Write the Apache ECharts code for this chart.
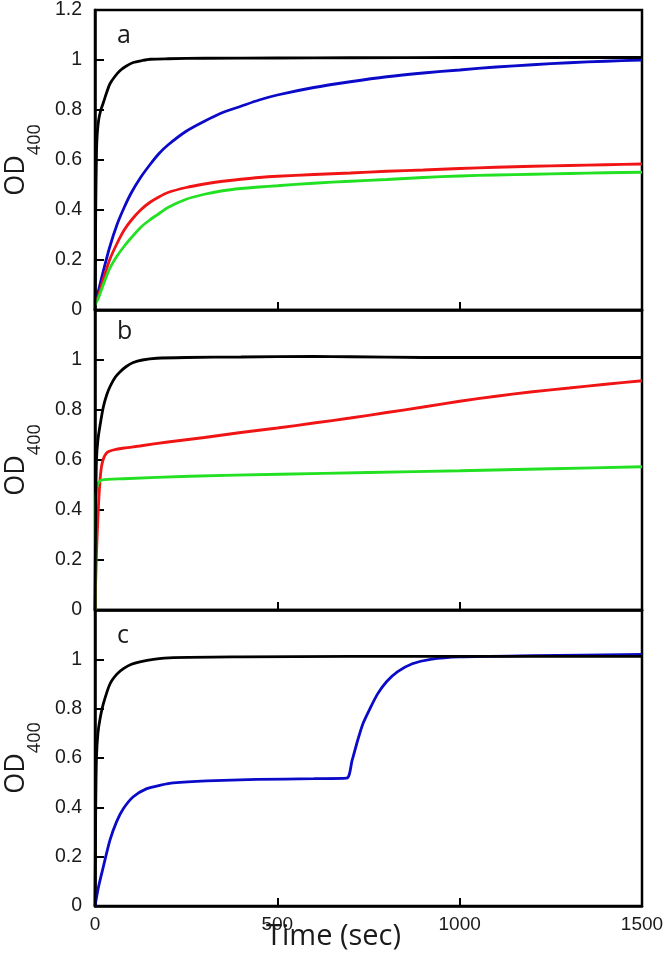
<!DOCTYPE html>
<html>
<head>
<meta charset="utf-8">
<script src="https://cdn.jsdelivr.net/npm/echarts@6/dist/echarts.min.js"></script>
<style>
html,body{margin:0;padding:0;background:#fff;}
#chart{width:666px;height:955px;}
</style>
</head>
<body>
<div id="chart"></div>
<script>
// ---- data (time in sec, OD400) ----
const xTicks = [0, 500, 1000, 1500];
const yTicks = [0, 0.2, 0.4, 0.6, 0.8, 1, 1.2];
const panelLetters = ['a', 'b', 'c'];
const xTitle = 'Time (sec)';

const aBlack = [[0,0],[2,0.4],[4,0.62],[6,0.7],[10,0.76],[16,0.8],[23,0.83],[32,0.87],[41,0.905],[55,0.935],[69,0.958],[85,0.975],[105,0.99],[130,0.998],[151,1.003],[200,1.005],[300,1.007],[500,1.008],[700,1.009],[1000,1.01],[1500,1.01]];
const aBlue = [[0,0.03],[10,0.08],[20,0.14],[40,0.25],[60,0.34],[80,0.41],[100,0.47],[125,0.53],[150,0.58],[175,0.625],[200,0.66],[250,0.715],[300,0.755],[350,0.79],[400,0.815],[450,0.84],[500,0.86],[600,0.89],[700,0.913],[800,0.933],[900,0.948],[1000,0.96],[1100,0.972],[1200,0.981],[1300,0.989],[1400,0.995],[1500,1.0]];
const aRed = [[0,0.03],[10,0.06],[20,0.11],[40,0.2],[60,0.265],[80,0.32],[100,0.36],[125,0.4],[150,0.43],[175,0.452],[200,0.47],[250,0.49],[300,0.504],[350,0.515],[400,0.523],[450,0.53],[500,0.535],[600,0.542],[700,0.548],[800,0.555],[900,0.56],[1000,0.566],[1100,0.571],[1200,0.575],[1300,0.578],[1400,0.581],[1500,0.584]];
const aGreen = [[0,0.02],[10,0.05],[20,0.09],[40,0.165],[60,0.215],[80,0.255],[100,0.29],[125,0.33],[150,0.36],[175,0.385],[200,0.41],[250,0.443],[300,0.463],[350,0.477],[400,0.486],[450,0.492],[500,0.497],[600,0.507],[700,0.515],[800,0.522],[900,0.53],[1000,0.536],[1100,0.54],[1200,0.543],[1300,0.546],[1400,0.549],[1500,0.551]];

const bBlack = [[0,0],[2,0.4],[4,0.6],[8,0.68],[14,0.74],[23,0.813],[32,0.86],[41,0.893],[55,0.93],[69,0.953],[85,0.973],[105,0.99],[130,1.0],[169,1.007],[250,1.01],[400,1.012],[600,1.014],[700,1.013],[900,1.01],[1200,1.01],[1500,1.01]];
const bRed = [[0,0],[2,0.12],[4,0.22],[6,0.3],[9,0.4],[12,0.48],[15,0.54],[18,0.575],[22,0.6],[27,0.618],[35,0.632],[50,0.64],[80,0.648],[123,0.656],[200,0.672],[300,0.69],[400,0.71],[500,0.728],[600,0.748],[700,0.768],[800,0.79],[900,0.812],[1000,0.835],[1100,0.855],[1200,0.873],[1300,0.888],[1400,0.903],[1500,0.917]];
const bGreen = [[0,0],[1,0.25],[2,0.42],[4,0.48],[8,0.505],[18,0.52],[78,0.525],[260,0.535],[507,0.543],[750,0.55],[1001,0.557],[1250,0.565],[1500,0.573]];

const cBlack = [[0,0],[2,0.4],[4,0.6],[8,0.7],[14,0.76],[23,0.82],[41,0.9],[60,0.94],[78,0.962],[100,0.98],[123,0.99],[160,1.0],[215,1.007],[400,1.01],[700,1.012],[1000,1.012],[1500,1.012]];
const cBlue = [[0,0],[10,0.08],[23,0.16],[41,0.267],[59,0.341],[78,0.395],[105,0.443],[142,0.476],[180,0.49],[215,0.499],[306,0.507],[443,0.513],[600,0.516],[690,0.518],[705,0.59],[720,0.67],[735,0.74],[754,0.8],[775,0.86],[800,0.91],[830,0.95],[870,0.982],[920,1.0],[1000,1.01],[1200,1.015],[1500,1.02]];

// ---- styling ----
const COLORS = { black: '#000000', blue: '#0a0ac8', red: '#f01414', green: '#22e022' };
const FONT = 'Liberation Sans, Arial, sans-serif';
const TFONT = 'Open Sans, sans-serif';
const TXT = '#1a1a1a';

const panels = [
  { top: 10, height: 300, series: [['black', aBlack], ['blue', aBlue], ['red', aRed], ['green', aGreen]], showTop: true },
  { top: 310, height: 300, series: [['black', bBlack], ['red', bRed], ['green', bGreen]], showTop: false },
  { top: 610, height: 296, series: [['black', cBlack], ['blue', cBlue]], showTop: false }
];

const chart = echarts.init(document.getElementById('chart'), null, { renderer: 'canvas' });

const grid = [], xAxis = [], yAxis = [], series = [], graphic = [];
panels.forEach((p, i) => {
  grid.push({ left: 95, width: 547, top: p.top, height: p.height, show: true, borderColor: '#000', borderWidth: 2.5,
    backgroundColor: 'transparent', containLabel: false, outerBoundsMode: 'none' });
  xAxis.push({
    type: 'value', gridIndex: i, min: xTicks[0], max: xTicks[xTicks.length - 1], interval: 500,
    axisLine: { show: true, lineStyle: { color: '#000', width: 2.5 } },
    axisTick: { show: true, inside: true, length: 8, lineStyle: { color: '#000', width: 2 },
      customValues: xTicks.slice(1, -1) },
    axisLabel: { show: i === 2, margin: 9, fontSize: 19, color: TXT, fontFamily: FONT, customValues: xTicks,
      formatter: v => String(v) },
    splitLine: { show: false }
  });
  yAxis.push({
    type: 'value', gridIndex: i, min: 0, max: 1.2, interval: 0.2,
    axisLine: { show: true, lineStyle: { color: '#000', width: 2.5 } },
    axisTick: { show: true, inside: true, length: 9, lineStyle: { color: '#000', width: 2 } },
    axisLabel: { margin: 13, fontSize: 19.5, color: TXT, fontFamily: FONT,
      formatter: v => (Math.abs(v - 1.2) < 1e-6 && !p.showTop) ? '' : String(Math.round(v * 10) / 10) },
    splitLine: { show: false },
    name: '{od|OD}{sub|400}', nameLocation: 'middle', nameRotate: 90, nameGap: 64,
    nameTextStyle: { rich: {
      od: { fontSize: 27, fontFamily: TFONT, color: TXT, verticalAlign: 'bottom', lineHeight: 30 },
      sub: { fontSize: 18, fontFamily: TFONT, color: TXT, verticalAlign: 'bottom', lineHeight: 30, padding: [0, 0, -14, 0] }
    } }
  });
  p.series.forEach(([c, d]) => {
    series.push({ type: 'line', xAxisIndex: i, yAxisIndex: i, data: d, showSymbol: false, smooth: 0.25,
      lineStyle: { color: COLORS[c], width: 2.8 }, itemStyle: { color: COLORS[c] }, silent: true, animation: false, z: c === 'black' ? 3 : 2 });
  });
});

const letterPos = [[117, 47], [117, 343], [117, 647]];
panelLetters.forEach((l, i) => {
  graphic.push({ type: 'text', left: letterPos[i][0], top: letterPos[i][1] - 24,
    style: { text: l, fontSize: 25, fontFamily: TFONT, fill: TXT } });
});
graphic.push({ type: 'text', left: 266, top: 922, style: { text: xTitle, fontSize: 29, fontFamily: TFONT, fill: TXT } });

chart.setOption({ animation: false, grid, xAxis, yAxis, series, graphic });
</script>
</body>
</html>
